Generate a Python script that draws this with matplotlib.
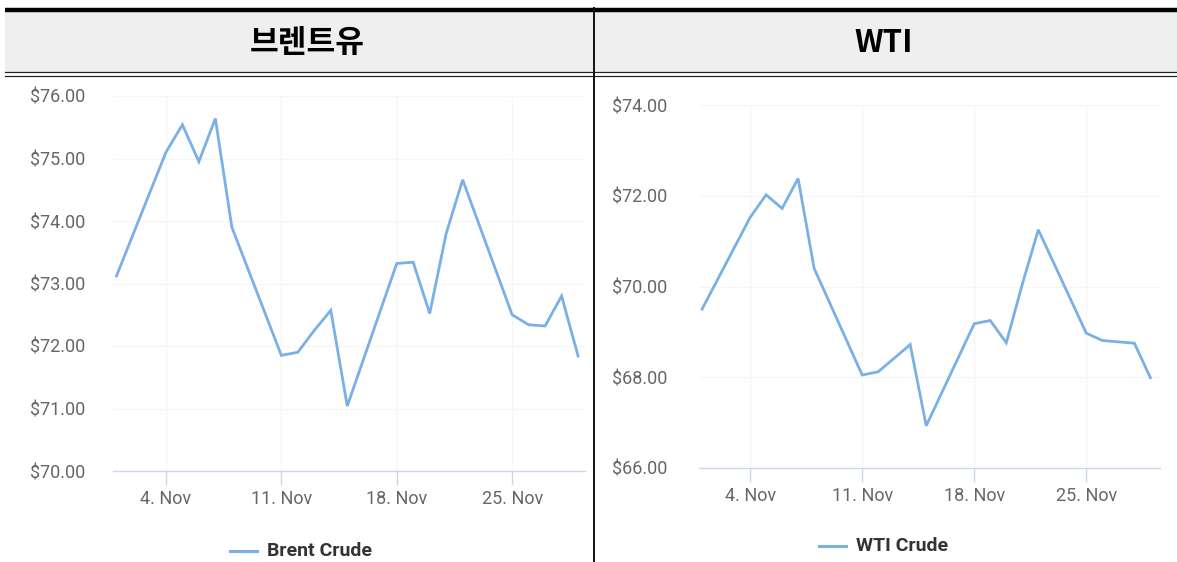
import matplotlib
matplotlib.use("Agg")
import matplotlib.pyplot as plt
from matplotlib.patches import Rectangle

# ---- data ----
days = [1, 4, 5, 6, 7, 8, 11, 12, 13, 14, 15, 18, 19, 20, 21, 22, 25, 26, 27, 28, 29]
brent = [73.12, 75.10, 75.54, 74.95, 75.64, 73.90, 71.85, 71.90, 72.25, 72.57, 71.04,
         73.32, 73.34, 72.52, 73.80, 74.66, 72.50, 72.34, 72.32, 72.80, 71.84]
wti = [69.50, 71.52, 72.02, 71.72, 72.38, 70.40, 68.05, 68.12, 68.42, 68.72, 66.93,
       69.18, 69.25, 68.76, 70.05, 71.25, 68.97, 68.81, 68.78, 68.75, 67.99]
tick_days = [4, 11, 18, 25]
tick_labels = ["4. Nov", "11. Nov", "18. Nov", "25. Nov"]
brent_yticks = [70, 71, 72, 73, 74, 75, 76]
wti_yticks = [66, 68, 70, 72, 74]
titles = ["브렌트유", "WTI"]
series_names = ["Brent Crude", "WTI Crude"]

W, H = 1177, 562
fig = plt.figure(figsize=(W / 100, H / 100), dpi=100)

# background / table frame in pixel coords
bg = fig.add_axes([0, 0, 1, 1])
bg.set_xlim(0, W)
bg.set_ylim(H, 0)
bg.axis("off")
bg.add_patch(Rectangle((5, 11), W - 5, 61, facecolor="#efefef", edgecolor="none"))
bg.plot([5, W], [9.5, 9.5], color="#000000", lw=3.2, solid_capstyle="butt")
bg.plot([5, W], [72, 72], color="#222222", lw=0.9)
bg.plot([5, W], [75.5, 75.5], color="#222222", lw=0.9)
bg.plot([594, 594], [8, H], color="#111111", lw=1.4)

for txt, cx in zip(titles, [307, 884]):
    bg.text(cx, 43, txt, ha="center", va="center", fontsize=22.5, fontweight="bold",
            family=["Noto Sans CJK KR", "DejaVu Sans"], color="#000000")

line_color = "#79b0e6"
axis_color = "#ccd6eb"
grid_color = "#f6f6f6"


def make_chart(rect, yvals, yticks, xlim, ypad, name, legend_cx, legend_y):
    ax = fig.add_axes(rect)
    ax.set_facecolor("none")
    ax.plot(days, yvals, color=line_color, lw=2.0, solid_joinstyle="miter", zorder=3)
    ax.set_xlim(*xlim)
    ax.set_ylim(yticks[0], yticks[-1])
    ax.set_yticks(yticks)
    ax.set_yticklabels([f"${v:.2f}" for v in yticks])
    ax.set_xticks(tick_days)
    ax.set_xticklabels(tick_labels)
    for s in ["top", "right", "left"]:
        ax.spines[s].set_visible(False)
    ax.spines["bottom"].set_color(axis_color)
    ax.spines["bottom"].set_linewidth(1.0)
    ax.tick_params(axis="y", length=0, pad=ypad, labelsize=13, labelcolor="#666666")
    ax.tick_params(axis="x", length=10, width=1, color=axis_color, pad=4,
                   labelsize=13, labelcolor="#666666")
    for lab in ax.get_xticklabels() + ax.get_yticklabels():
        lab.set_family("Roboto")
    for yv in yticks[1:]:
        ax.axhline(yv, color=grid_color, lw=1, zorder=1)
    for xv in tick_days:
        ax.axvline(xv, color=grid_color, lw=1, zorder=1)
    # legend (drawn in pixel coordinates of background)
    bg.plot([legend_cx - 75, legend_cx - 48], [legend_y, legend_y], color=line_color, lw=2.2)
    bg.text(legend_cx - 38, legend_y, name, ha="left", va="center", fontsize=14,
            fontweight="bold", family="Roboto", color="#333333")
    return ax


make_chart([113 / W, 1 - 471 / H, (585 - 113) / W, (471 - 96) / H],
           brent, brent_yticks, (0.79, 29.42), 20, series_names[0], 305, 551)
make_chart([699 / W, 1 - 468 / H, (1160 - 699) / W, (468 - 105) / H],
           wti, wti_yticks, (0.81, 29.6), 23, series_names[1], 894, 546)

fig.savefig("out.png", dpi=100)
